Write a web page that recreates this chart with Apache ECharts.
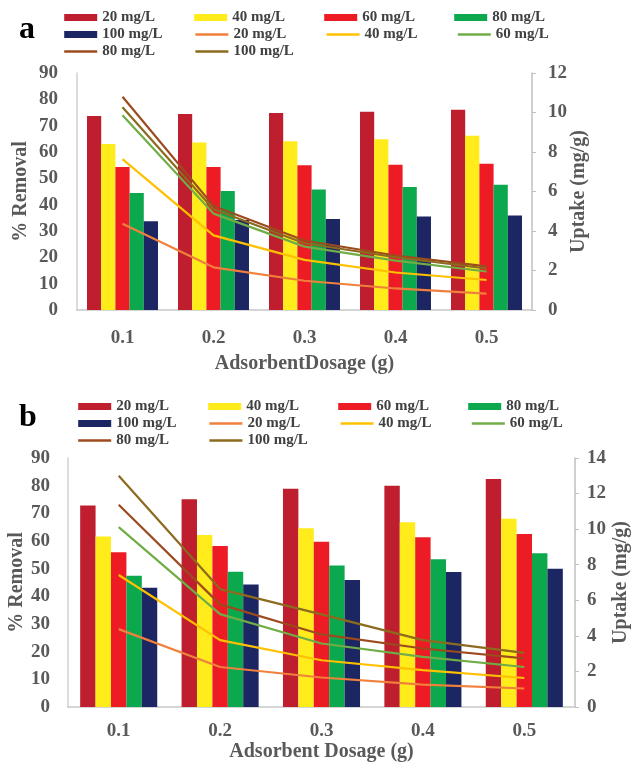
<!DOCTYPE html>
<html>
<head>
<meta charset="utf-8">
<script src="https://cdn.jsdelivr.net/npm/echarts@6/dist/echarts.min.js"></script>
<style>html,body{margin:0;padding:0;background:#fff}#c{width:631px;height:762px}</style>
</head>
<body>
<div id="c"></div>
<script>
var categories = ['0.1', '0.2', '0.3', '0.4', '0.5'];
var concentrations = ['20', '40', '60', '80', '100'];

// Panel a: % removal (bars)
var aRemoval20 = [73.7, 74.4, 74.8, 75.3, 76.0];
var aRemoval40 = [63.0, 63.6, 64.1, 64.8, 66.2];
var aRemoval60 = [54.3, 54.3, 55.0, 55.2, 55.5];
var aRemoval80 = [44.4, 45.2, 45.8, 46.7, 47.6];
var aRemoval100 = [33.7, 34.2, 34.6, 35.5, 35.9];
// Panel a: uptake (lines)
var aUptake20 = [4.37, 2.16, 1.48, 1.09, 0.83];
var aUptake40 = [7.64, 3.78, 2.54, 1.90, 1.52];
var aUptake60 = [9.86, 4.88, 3.21, 2.50, 1.95];
var aUptake80 = [10.80, 5.27, 3.52, 2.76, 2.21];
var aUptake100 = [10.27, 5.10, 3.38, 2.67, 2.10];

// Panel b: % removal (bars)
var bRemoval20 = [72.8, 75.1, 78.9, 80.0, 82.4];
var bRemoval40 = [61.6, 62.2, 64.6, 66.8, 68.0];
var bRemoval60 = [55.9, 58.2, 59.7, 61.4, 62.5];
var bRemoval80 = [47.4, 48.9, 51.1, 53.4, 55.6];
var bRemoval100 = [43.1, 44.3, 45.9, 48.8, 50.0];
// Panel b: uptake (lines)
var bUptake20 = [4.38, 2.25, 1.66, 1.26, 1.04];
var bUptake40 = [7.42, 3.76, 2.63, 2.07, 1.63];
var bUptake60 = [10.11, 5.22, 3.57, 2.82, 2.25];
var bUptake80 = [11.37, 5.77, 4.08, 3.29, 2.73];
var bUptake100 = [13.00, 6.63, 5.21, 3.76, 3.04];

var barColors = ['#BE1E2D', '#FFEC1A', '#ED1C24', '#0CA84E', '#1B2663'];
var lineColors = ['#F0803C', '#FFC000', '#70AD47', '#9C4A1E', '#8C6A1E'];

var FONT = 'Liberation Serif';
var GRAY = '#595959';

var aBars = [aRemoval20, aRemoval40, aRemoval60, aRemoval80, aRemoval100];
var aLines = [aUptake20, aUptake40, aUptake60, aUptake80, aUptake100];
var bBars = [bRemoval20, bRemoval40, bRemoval60, bRemoval80, bRemoval100];
var bLines = [bUptake20, bUptake40, bUptake60, bUptake80, bUptake100];

function build(panel, bars, lines, xi, yl, yr, gap, lw) {
  var s = [];
  bars.forEach(function (d, i) {
    s.push({
      name: panel + '-bar-' + concentrations[i], type: 'bar', xAxisIndex: xi, yAxisIndex: yl,
      data: d, barGap: '0%', barCategoryGap: gap, itemStyle: { color: barColors[i] }, z: 2
    });
  });
  lines.forEach(function (d, i) {
    s.push({
      name: panel + '-line-' + concentrations[i], type: 'line', xAxisIndex: xi, yAxisIndex: yr,
      data: d, symbol: 'none', lineStyle: { color: lineColors[i], width: lw },
      itemStyle: { color: lineColors[i] }, z: 3
    });
  });
  return s;
}

function legendFor(panel, left, top) {
  var data = [];
  concentrations.forEach(function (c) { data.push({ name: panel + '-bar-' + c, icon: 'rect' }); });
  concentrations.forEach(function (c) {
    data.push({ name: panel + '-line-' + c, itemStyle: { opacity: 0, borderWidth: 0 }, lineStyle: { width: 2.4 } });
  });
  return {
    data: data, left: left, top: top, width: 525, padding: 0, itemGap: 0,
    itemWidth: 33, itemHeight: 7, orient: 'horizontal', selectedMode: false,
    formatter: function (n) { return n.split('-')[2] + ' mg/L'; },
    textStyle: { fontFamily: FONT, fontWeight: 'bold', fontSize: 15, color: '#404040', width: 92, lineHeight: 17 }
  };
}

var labelStyle = { fontFamily: FONT, fontWeight: 'bold', fontSize: 19, color: GRAY };
var nameStyle = { fontFamily: FONT, fontWeight: 'bold', fontSize: 20, color: GRAY };

var chart = echarts.init(document.getElementById('c'), null, { renderer: 'canvas' });
chart.setOption({
  animation: false,
  backgroundColor: '#fff',
  graphic: [
    { type: 'text', left: 19, top: 14, style: { text: 'a', font: 'bold 32px "Liberation Serif"', fill: '#000' } },
    { type: 'text', left: 19, top: 402, style: { text: 'b', font: 'bold 32px "Liberation Serif"', fill: '#000' } }
  ],
  legend: [legendFor('a', 63, 9), legendFor('b', 77, 398)],
  grid: [
    { left: 77, right: 99, top: 73, height: 237, outerBoundsMode: 'none' },
    { left: 68, right: 56, top: 458, height: 249, outerBoundsMode: 'none' }
  ],
  xAxis: [
    { type: 'category', gridIndex: 0, data: categories,
      axisLine: { lineStyle: { color: '#C8C8C8', width: 1.5 } }, axisTick: { show: false },
      axisLabel: Object.assign({ margin: 19 }, labelStyle),
      name: 'AdsorbentDosage (g)', nameLocation: 'middle', nameGap: 44, nameMoveOverlap: false, nameTextStyle: nameStyle },
    { type: 'category', gridIndex: 1, data: categories,
      axisLine: { lineStyle: { color: '#C8C8C8', width: 1.5 } }, axisTick: { show: false },
      axisLabel: Object.assign({ margin: 15 }, labelStyle),
      name: 'Adsorbent Dosage (g)', nameLocation: 'middle', nameGap: 35, nameMoveOverlap: false, nameTextStyle: nameStyle }
  ],
  yAxis: [
    { type: 'value', gridIndex: 0, min: 0, max: 90, interval: 10, position: 'left',
      axisLine: { show: true, lineStyle: { color: '#D0D0D0', width: 1.5 } }, axisTick: { show: false },
      splitLine: { show: false }, axisLabel: Object.assign({ margin: 19 }, labelStyle),
      name: '% Removal', nameLocation: 'middle', nameGap: 46, nameRotate: 90, nameMoveOverlap: false, nameTextStyle: nameStyle },
    { type: 'value', gridIndex: 0, min: 0, max: 12, interval: 2, position: 'right',
      axisLine: { show: true, lineStyle: { color: '#C0C0C0', width: 1.5 } },
      axisTick: { show: true, length: 4, lineStyle: { color: '#C0C0C0' } },
      splitLine: { show: false }, axisLabel: Object.assign({ margin: 16 }, labelStyle),
      name: 'Uptake (mg/g)', nameLocation: 'middle', nameGap: 37, nameRotate: 90, nameMoveOverlap: false, nameTextStyle: nameStyle },
    { type: 'value', gridIndex: 1, min: 0, max: 90, interval: 10, position: 'left',
      axisLine: { show: true, lineStyle: { color: '#D0D0D0', width: 1.5 } }, axisTick: { show: false },
      splitLine: { show: false }, axisLabel: Object.assign({ margin: 18 }, labelStyle),
      name: '% Removal', nameLocation: 'middle', nameGap: 41, nameRotate: 90, nameMoveOverlap: false, nameTextStyle: nameStyle },
    { type: 'value', gridIndex: 1, min: 0, max: 14, interval: 2, position: 'right',
      axisLine: { show: true, lineStyle: { color: '#C0C0C0', width: 1.5 } },
      axisTick: { show: true, length: 4, lineStyle: { color: '#C0C0C0' } },
      splitLine: { show: false }, axisLabel: Object.assign({ margin: 12 }, labelStyle),
      name: 'Uptake (mg/g)', nameLocation: 'middle', nameGap: 36, nameRotate: 90, nameMoveOverlap: false, nameTextStyle: nameStyle }
  ],
  series: build('a', aBars, aLines, 0, 0, 1, '22%', 2.2).concat(build('b', bBars, bLines, 1, 2, 3, '24%', 2.2))
});
</script>
</body>
</html>
